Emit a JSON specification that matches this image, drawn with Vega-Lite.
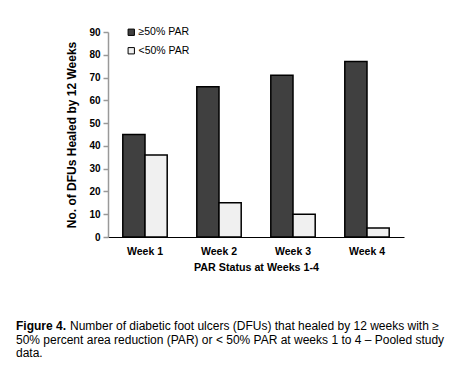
{
  "$schema": "https://vega.github.io/schema/vega-lite/v6.json",
  "autosize": "none",
  "padding": {"left": 108, "top": 32, "right": 62, "bottom": 132},
  "width": 296,
  "height": 205,
  "background": "white",
  "config": {
    "font": "Liberation Sans",
    "view": {"stroke": null}
  },
  "title": {
    "text": "Figure 4.",
    "subtitle": ["\u200b\u2003\u2003\u2003\u2003\u2002Number of diabetic foot ulcers (DFUs) that healed by 12 weeks with ≥", "50% percent area reduction (PAR) or < 50% PAR at weeks 1 to 4 – Pooled study", "data."],
    "orient": "bottom",
    "anchor": "start",
    "frame": "group",
    "dx": -92,
    "offset": 49,
    "font": "Liberation Sans",
    "fontSize": 12,
    "fontWeight": "bold",
    "color": "black",
    "subtitleFont": "Liberation Sans",
    "subtitleFontSize": 12,
    "subtitleColor": "black",
    "subtitleLineHeight": 13.5,
    "subtitlePadding": -12
  },
  "data": {
    "values": [
      {"week": "Week 1", "group": "≥50% PAR", "count": 45},
      {"week": "Week 1", "group": "<50% PAR", "count": 36},
      {"week": "Week 2", "group": "≥50% PAR", "count": 66},
      {"week": "Week 2", "group": "<50% PAR", "count": 15},
      {"week": "Week 3", "group": "≥50% PAR", "count": 71},
      {"week": "Week 3", "group": "<50% PAR", "count": 10},
      {"week": "Week 4", "group": "≥50% PAR", "count": 77},
      {"week": "Week 4", "group": "<50% PAR", "count": 4}
    ]
  },
  "mark": {"type": "bar", "stroke": "black", "strokeWidth": 1.5},
  "encoding": {
    "x": {
      "field": "week",
      "type": "nominal",
      "scale": {"paddingInner": 0.4, "paddingOuter": 0.2},
      "axis": {
        "title": "PAR Status at Weeks 1-4",
        "labelAngle": 0,
        "ticks": false,
        "domainColor": "black",
        "domainWidth": 1,
        "labelFont": "Liberation Sans",
        "labelFontSize": 10.5,
        "labelFontWeight": "bold",
        "labelColor": "black",
        "labelPadding": 9,
        "titleFont": "Liberation Sans",
        "titleFontSize": 10.7,
        "titleFontWeight": "bold",
        "titleColor": "black",
        "titlePadding": 6
      }
    },
    "xOffset": {"field": "group", "type": "nominal", "sort": ["≥50% PAR", "<50% PAR"], "scale": {"paddingInner": 0}},
    "y": {
      "field": "count",
      "type": "quantitative",
      "scale": {"domain": [0, 90], "nice": false},
      "axis": {
        "title": "No. of DFUs Healed by 12 Weeks",
        "values": [0, 10, 20, 30, 40, 50, 60, 70, 80, 90],
        "grid": false,
        "domainColor": "#999999",
        "domainWidth": 1.5,
        "tickColor": "#999999",
        "tickSize": 5,
        "tickWidth": 1.5,
        "labelFont": "Liberation Sans",
        "labelFontSize": 10,
        "labelFontWeight": "bold",
        "labelColor": "black",
        "labelPadding": 3,
        "titleFont": "Liberation Sans",
        "titleFontSize": 12,
        "titleFontWeight": "bold",
        "titleColor": "black",
        "titlePadding": 10
      }
    },
    "fill": {
      "field": "group",
      "type": "nominal",
      "scale": {"domain": ["≥50% PAR", "<50% PAR"], "range": ["#404040", "#f0f0f0"]},
      "legend": {
        "title": null,
        "orient": "none",
        "legendX": 18,
        "legendY": -5,
        "symbolType": "square",
        "symbolSize": 40,
        "symbolStrokeColor": "black",
        "symbolStrokeWidth": 1,
        "labelFont": "Liberation Sans",
        "labelFontSize": 10.5,
        "labelColor": "black",
        "labelOffset": 2,
        "rowPadding": 7.5
      }
    }
  }
}
